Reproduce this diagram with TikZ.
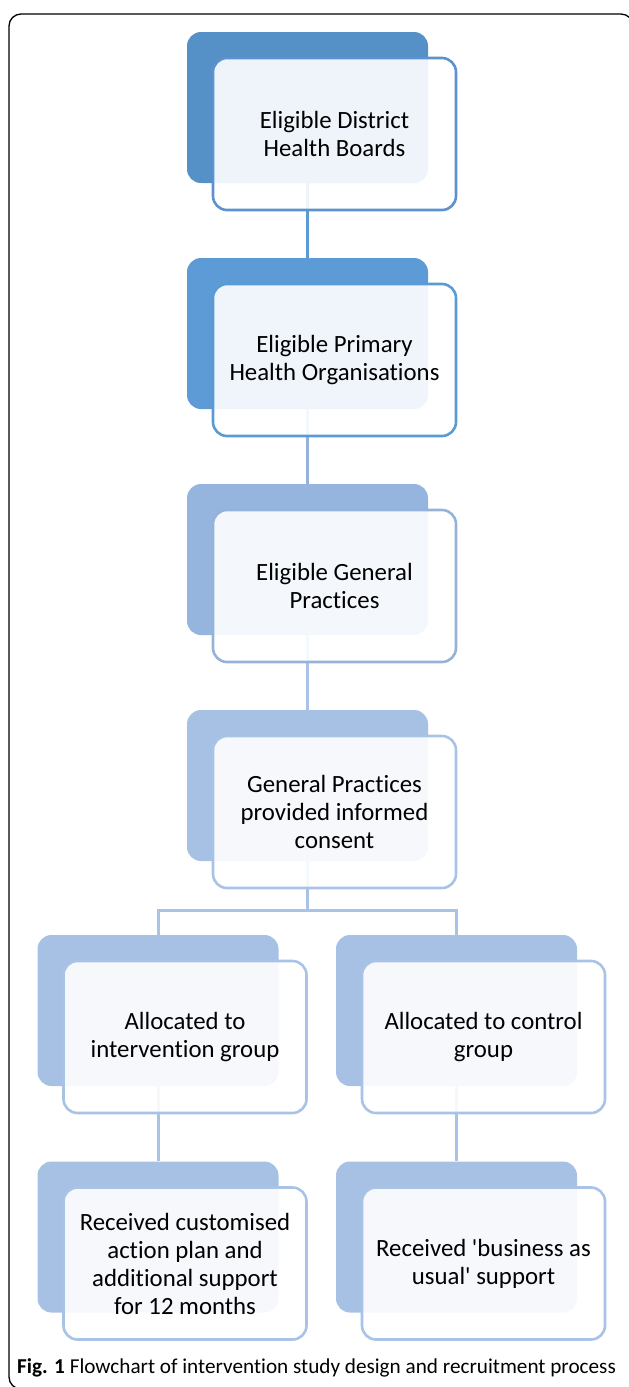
\documentclass[tikz,border=0pt]{standalone}
\usepackage{fontspec}
\setmainfont{Carlito}[Ligatures={NoCommon,NoRequired,NoContextual}]
\begin{document}
\begin{tikzpicture}[x=1pt,y=-1pt,
  backbox/.style={rounded corners=14pt, minimum width=241pt, minimum height=151pt, inner sep=0pt},
  frontbox/.style={rounded corners=14pt, line width=2.6pt, fill=white, fill opacity=0.9, text opacity=1,
    minimum width=243pt, minimum height=152pt, inner sep=0pt, align=center,
    font=\fontsize{24.8}{28}\selectfont},
  conn/.style={line width=3pt},
]
\definecolor{cA}{HTML}{5590C6}
\definecolor{oA}{HTML}{5B92CF}
\definecolor{cB}{HTML}{5C9BD5}
\definecolor{oB}{HTML}{5B9BD5}
\definecolor{cC}{HTML}{95B4DE}
\definecolor{oC}{HTML}{95B3DA}
\definecolor{cD}{HTML}{A6C1E3}
\definecolor{oD}{HTML}{A8C3E6}
\useasboundingbox (0,0) rectangle (629,1387);

% frame
\draw[line width=1.3pt, rounded corners=12pt] (633,40) -- (633,14) -- (9,14) -- (9,1389) -- (60,1389);

% back boxes
\node[backbox, fill=cA] (b1back) at (307.5,107.5) {};
\node[backbox, fill=cB] (b2back) at (307.5,333.5) {};
\node[backbox, fill=cC] (b3back) at (307.5,559.5) {};
\node[backbox, fill=cD] (b4back) at (307.5,785.5) {};
\node[backbox, fill=cD] (b5back) at (158,1010.5) {};
\node[backbox, fill=cD] (b6back) at (456.5,1010.5) {};
\node[backbox, fill=cD] (b7back) at (158,1237) {};
\node[backbox, fill=cD] (b8back) at (456.5,1237) {};

% connectors
\coordinate (split) at (307.5,910);
\draw[conn, draw=oB] (b1back.south) -- (b2back.north);
\draw[conn, draw=oC] (b2back.south) -- (b3back.north);
\draw[conn, draw=oD] (b3back.south) -- (b4back.north);
\draw[conn, draw=oD] (b4back.south) -- (split) -| ([yshift=-3pt]b5back.north);
\draw[conn, draw=oD] (split) -| ([yshift=-3pt]b6back.north);
\draw[conn, draw=oD] (b5back.south) -- (b7back.north);
\draw[conn, draw=oD] (b6back.south) -- (b8back.north);

% front boxes
\node[frontbox, draw=oA] (b1) at (334.5,134) {Eligible District\\Health Boards};
\node[frontbox, draw=oB] (b2) at (334.5,360) {Eligible Primary\\Health Organisations};
\node[frontbox, draw=oC] (b3) at (334.5,586) {Eligible General\\Practices};
\node[frontbox, draw=oD] (b4) at (334.5,812) {General Practices\\provided informed\\consent};
\node[frontbox, draw=oD] (b5) at (185,1037) {Allocated to\\intervention group};
\node[frontbox, draw=oD] (b6) at (483.5,1037) {Allocated to control\\group};
\node[frontbox, draw=oD] (b7) at (185,1263.5) {Received customised\\action plan and\\additional support\\for 12 months};
\node[frontbox, draw=oD] (b8) at (483.5,1263.5) {Received \textquotesingle business as\\usual\textquotesingle\ support};

% caption
\node[anchor=west, inner sep=0pt, font=\fontsize{21.2}{24}\selectfont] (cap) at (17,1368)
  {\textbf{Fig. 1} Flowchart of intervention study design and recruitment process};
\end{tikzpicture}
\end{document}
